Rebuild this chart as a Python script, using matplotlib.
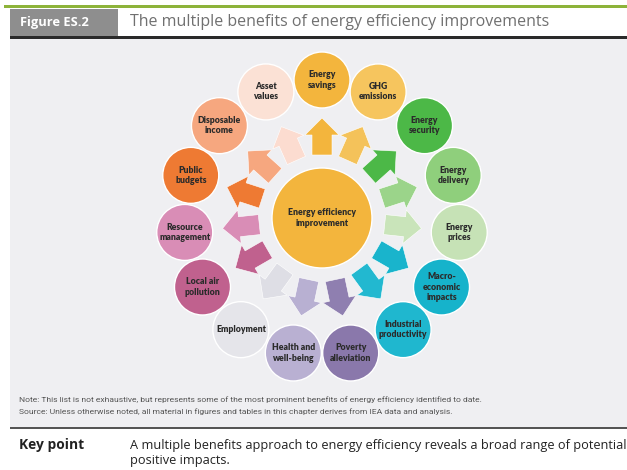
import matplotlib.pyplot as plt
from matplotlib.patches import Circle, FancyArrow, Rectangle
import numpy as np

# benefits, clockwise from the top
benefits = ['Energy\nsavings', 'GHG\nemissions', 'Energy\nsecurity', 'Energy\ndelivery',
            'Energy\nprices', 'Macro-\neconomic\nimpacts', 'Industrial\nproductivity',
            'Poverty\nalleviation', 'Health and\nwell-being', 'Employment',
            'Local air\npollution', 'Resource\nmanagement', 'Public\nbudgets',
            'Disposable\nincome', 'Asset\nvalues']
circle_colors = ['#f3b53d', '#f6c55e', '#4cb847', '#8fcf7c', '#c6e2b6', '#16b3cb',
                 '#1fb7cf', '#8a78ab', '#b9b0d2', '#e5e5ea', '#c0618e', '#d98db6',
                 '#ee7a33', '#f6a77f', '#fbe1d5']
arrow_colors = ['#f3b53d', '#f4c25a', '#4cb847', '#9bd48a', '#c9e4ba', '#19b4cc',
                '#22b8d0', '#8f7fb0', '#b8b0d2', '#dedee5', '#c0618e', '#d98db6',
                '#ee7a33', '#f6a77f', '#fcdcd0']
center_label = 'Energy efficiency\nimprovement'
title = 'The multiple benefits of energy efficiency improvements'
fig_label = 'Figure ES.2'
note = 'Note: This list is not exhaustive, but represents some of the most prominent benefits of energy efficiency identified to date.'
source = 'Source: Unless otherwise noted, all material in figures and tables in this chapter derives from IEA data and analysis.'
key_text = 'A multiple benefits approach to energy efficiency reveals a broad range of potential\npositive impacts.'

W, H = 627, 470
fig = plt.figure(figsize=(W / 100, H / 100), dpi=100)
ax = fig.add_axes([0, 0, 1, 1])
ax.set_xlim(0, W)
ax.set_ylim(H, 0)
ax.set_aspect('equal')
ax.axis('off')

# header and panels
ax.add_patch(Rectangle((4, 5), W, 2.5, color='#8db33a', lw=0))
ax.add_patch(Rectangle((10, 9), 108, 27, color='#8e8e8e', lw=0))
ax.text(20, 22.5, fig_label, color='white', fontsize=9.3, fontweight='bold',
        family='Open Sans', va='center')
ax.text(130, 21.5, title, color='#707070', fontsize=11.5, family='Open Sans', va='center')
ax.add_patch(Rectangle((10, 36), W, 3, color='#2a2a2a', lw=0))
ax.add_patch(Rectangle((10, 39), W, 388, color='#efeff2', lw=0))
ax.add_patch(Rectangle((10, 427), W, 2.2, color='#555555', lw=0))

cx, cy = 322, 218
R = 138
r_out = 28
ax.add_patch(Circle((cx, cy), 50, color='#f3b53d', ec='white', lw=1))
ax.text(cx, cy, center_label, ha='center', va='center', fontsize=6.2,
        fontweight='heavy', family='Lato', color='#2b2b2b', linespacing=1.15)

for i, lab in enumerate(benefits):
    ang = np.deg2rad(90 - 24 * i)
    ux, uy = np.cos(ang), -np.sin(ang)
    ax.add_patch(Circle((cx + R * ux, cy + R * uy), r_out, fc=circle_colors[i],
                        ec='white', lw=1))
    ax.text(cx + R * ux, cy + R * uy, lab, ha='center', va='center', fontsize=6.2,
            fontweight='heavy', family='Lato', color='#2b2b2b', linespacing=1.15)
    ax.add_patch(FancyArrow(cx + 63 * ux, cy + 63 * uy, 37 * ux, 37 * uy, width=20,
                            head_width=34, head_length=17, length_includes_head=True,
                            fc=arrow_colors[i], ec='white', lw=0.4))

ax.text(19, 400, note, fontsize=6.1, color='#555555', family='Roboto', va='center')
ax.text(19, 411.5, source, fontsize=6.1, color='#555555', family='Roboto', va='center')
ax.text(19, 445, 'Key point', fontsize=9.9, fontweight='bold', family='Open Sans',
        color='#222222', va='center')
ax.text(130, 453, key_text, fontsize=9.2, family='Open Sans', color='#222222',
        va='center', linespacing=1.15)

fig.savefig('out.png', dpi=100, facecolor='white')
